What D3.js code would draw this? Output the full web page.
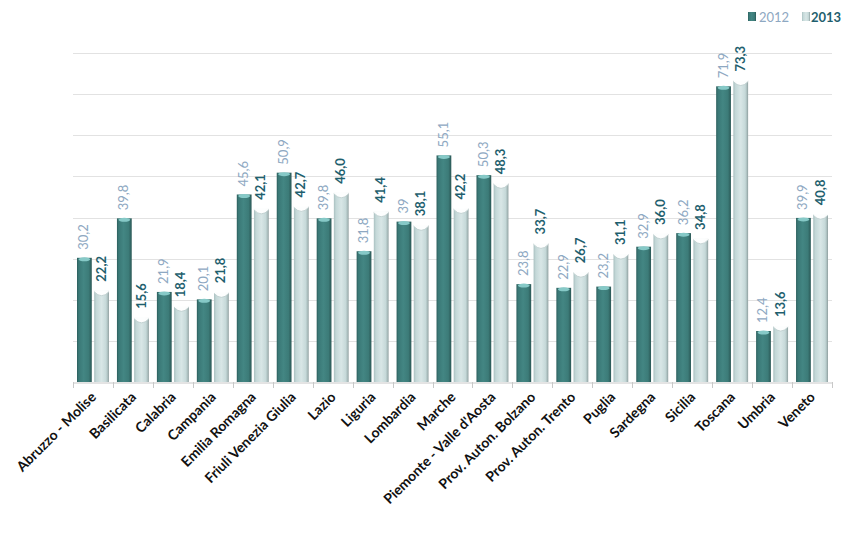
<!DOCTYPE html>
<html>
<head>
<meta charset="utf-8">
<script src="https://cdn.jsdelivr.net/npm/d3@7"></script>
<style>
  html, body { margin: 0; padding: 0; background: #fff; }
  svg { display: block; }
</style>
</head>
<body>
<svg id="chart" width="852" height="540"></svg>
<script>
const categories = ["Abruzzo - Molise","Basilicata","Calabria","Campania","Emilia Romagna","Friuli Venezia Giulia","Lazio","Liguria","Lombardia","Marche","Piemonte - Valle d'Aosta","Prov. Auton. Bolzano","Prov. Auton. Trento","Puglia","Sardegna","Sicilia","Toscana","Umbria","Veneto"];
const series = ["2012","2013"];
const values2012 = [30.2,39.8,21.9,20.1,45.6,50.9,39.8,31.8,39,55.1,50.3,23.8,22.9,23.2,32.9,36.2,71.9,12.4,39.9];
const values2013 = [22.2,15.6,18.4,21.8,42.1,42.7,46.0,41.4,38.1,42.2,48.3,33.7,26.7,31.1,36.0,34.8,73.3,13.6,40.8];
const gridTicks = [10,20,30,40,50,60,70,80];

const svg = d3.select("#chart");
const defs = svg.append("defs");

function hGrad(id, stops) {
  const g = defs.append("linearGradient").attr("id", id).attr("x1","0").attr("x2","1").attr("y1","0").attr("y2","0");
  stops.forEach(s => g.append("stop").attr("offset", s[0]).attr("stop-color", s[1]));
}
hGrad("gDark", [[0,"#2c5e5c"],[0.12,"#3a7876"],[0.45,"#438683"],[0.8,"#3c7b78"],[1,"#2a5755"]]);
hGrad("gLight", [[0,"#a9c0c0"],[0.15,"#c4d8d8"],[0.5,"#d8e6e6"],[0.8,"#c6d9d9"],[0.92,"#a9bcbc"],[1,"#8c9c9c"]]);

const x = d3.scaleBand().domain(categories).range([73, 832]).paddingInner(0).paddingOuter(0);
const x1 = d3.scaleBand().domain(series).range([4, x.bandwidth() - 4]).paddingInner(0.14);
const y = d3.scaleLinear().domain([0, 80]).range([382, 53]);

// gridlines
svg.append("g").selectAll("line").data(gridTicks).join("line")
  .attr("x1", 73).attr("x2", 832)
  .attr("y1", d => Math.round(y(d)) + 0.5).attr("y2", d => Math.round(y(d)) + 0.5)
  .attr("stroke", "#e2e2e2").attr("stroke-width", 1);

// baseline axis
const axis = d3.axisBottom(x).tickSizeOuter(0).tickSizeInner(0).tickFormat("");
const axG = svg.append("g").attr("transform", "translate(0,382.5)").call(axis);
axG.select(".domain").attr("stroke", "#c8c8c8");
// boundary ticks
const bounds = categories.map(c => x(c)).concat([x(categories[categories.length-1]) + x.bandwidth()]);
svg.append("g").selectAll("line").data(bounds).join("line")
  .attr("x1", d => Math.round(d) + 0.5).attr("x2", d => Math.round(d) + 0.5)
  .attr("y1", 382).attr("y2", 388).attr("stroke", "#c8c8c8");

const data = categories.map((c, i) => ({ c, v: [values2012[i], values2013[i]] }));
const groups = svg.append("g").selectAll("g").data(data).join("g")
  .attr("transform", d => `translate(${x(d.c)},0)`);

const bw = x1.bandwidth();
// 2012 dark bars
groups.append("rect")
  .attr("x", x1("2012")).attr("width", bw)
  .attr("y", d => y(d.v[0])).attr("height", d => y(0) - y(d.v[0]))
  .attr("fill", "url(#gDark)");
groups.append("ellipse")
  .attr("cx", x1("2012") + bw / 2).attr("cy", d => y(d.v[0]) + 1.5)
  .attr("rx", bw / 2 - 1.5).attr("ry", 2)
  .attr("fill", "#86c9c7");
// 2013 light bars
groups.append("rect")
  .attr("x", x1("2013")).attr("width", bw)
  .attr("y", d => y(d.v[1])).attr("height", d => y(0) - y(d.v[1]))
  .attr("fill", "url(#gLight)");
groups.append("path")
  .attr("d", d => {
    const x0 = x1("2013"), t = y(d.v[1]);
    return `M${x0},${t - 0.5} L${x0 + bw},${t - 0.5} L${x0 + bw},${t + 1} Q${x0 + bw/2},${t + 9} ${x0},${t + 1} Z`;
  })
  .attr("fill", "#ffffff").attr("opacity", 0.95);
groups.append("path")
  .attr("d", d => {
    const x0 = x1("2013"), t = y(d.v[1]);
    return `M${x0 + bw},${t + 1} Q${x0 + bw/2},${t + 9} ${x0},${t + 1}`;
  })
  .attr("fill", "none").attr("stroke", "#b9caca").attr("stroke-width", 0.8);

// value labels
const fmt12 = v => String(v).replace(".", ",");
const fmt13 = v => v.toFixed(1).replace(".", ",");
groups.append("text")
  .attr("transform", d => `translate(${x1("2012") + bw / 2 + 4},${y(d.v[0]) - 8}) rotate(-90)`)
  .attr("font-family", "Lato, 'Open Sans', sans-serif").attr("font-size", 13)
  .attr("fill", "#8ea8c2").text(d => fmt12(d.v[0]));
groups.append("text")
  .attr("transform", d => `translate(${x1("2013") + bw / 2 + 4},${y(d.v[1]) - 9}) rotate(-90)`)
  .attr("font-family", "Lato, 'Open Sans', sans-serif").attr("font-size", 13).attr("font-weight", "bold")
  .attr("fill", "#1f5f6e").text(d => fmt13(d.v[1]));

// category labels
svg.append("g").selectAll("text").data(categories).join("text")
  .attr("transform", d => `translate(${x(d) + x.bandwidth() / 2 + 4},${398}) rotate(-45)`)
  .attr("text-anchor", "end")
  .attr("font-family", "Lato, 'Open Sans', sans-serif").attr("font-size", 14).attr("font-weight", "bold")
  .attr("fill", "#111").text(d => d);

// legend
const legend = svg.append("g").attr("transform", "translate(748,12)");
legend.append("rect").attr("x", 0).attr("y", 0).attr("width", 8).attr("height", 9).attr("fill", "url(#gDark)");
legend.append("text").attr("x", 11).attr("y", 10).attr("font-family", "Lato, 'Open Sans', sans-serif")
  .attr("font-size", 13).attr("fill", "#8ea8c2").text(series[0]);
legend.append("rect").attr("x", 54).attr("y", 0).attr("width", 8).attr("height", 9).attr("fill", "url(#gLight)");
legend.append("text").attr("x", 63).attr("y", 10).attr("font-family", "Lato, 'Open Sans', sans-serif")
  .attr("font-size", 13).attr("font-weight", "bold").attr("fill", "#1f5f6e").text(series[1]);
</script>
</body>
</html>
